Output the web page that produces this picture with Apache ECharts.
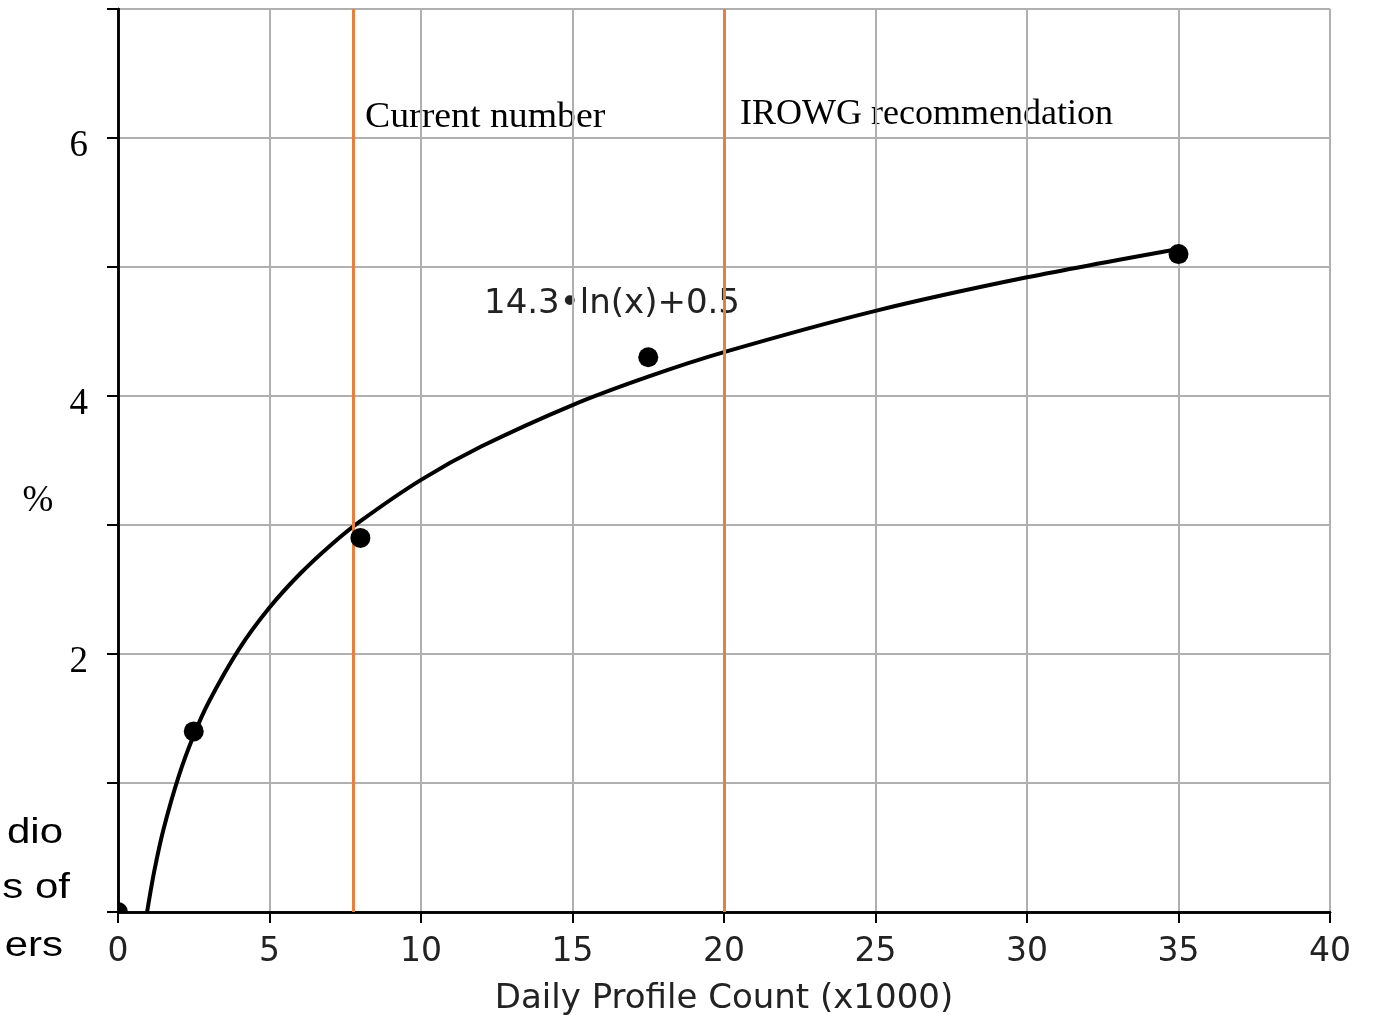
<!DOCTYPE html>
<html>
<head>
<meta charset="utf-8">
<script src="https://cdn.jsdelivr.net/npm/echarts@6/dist/echarts.min.js"></script>
<style>
  html, body { margin: 0; padding: 0; background: #fff; overflow: hidden; }
  #main { width: 1373px; height: 1015px; }
</style>
</head>
<body>
<div id="main"></div>
<script>
// measured profiles
var pointX = [0, 2.5, 8, 17.5, 35];
var pointY = [0, 1.4, 2.9, 4.3, 5.1];

// fitted curve
var curveX = [0.96, 1.2, 1.5, 2, 2.5, 3, 4, 5, 6, 7, 8, 10, 12, 15, 17.5, 20, 25, 30, 35];
var curveY = [0, 0.32, 0.64, 1.05, 1.37, 1.63, 2.04, 2.36, 2.62, 2.84, 3.03, 3.35, 3.61, 3.93, 4.15, 4.34, 4.66, 4.92, 5.14];

// vertical reference lines
var refLinesX = [7.75, 20];

var xTicks = [0, 5, 10, 15, 20, 25, 30, 35, 40];
var yTickLabels = ["2", "4", "6"];

var serif = '"Liberation Serif", "DejaVu Serif", serif';
var sans = '"DejaVu Sans", sans-serif';
var arial = '"Liberation Sans", Arial, sans-serif';

var myChart = echarts.init(document.getElementById("main"));

var option = {
  backgroundColor: "#fff",
  animation: false,
  grid: { left: 118, right: 43, top: 9, bottom: 103, outerBoundsMode: "none", containLabel: false },
  xAxis: [
    {
      type: "value",
      min: xTicks[0],
      max: xTicks[xTicks.length - 1],
      interval: 5,
      name: "Daily Profile Count (x1000)",
      nameLocation: "middle",
      nameGap: 70,
      nameTextStyle: { fontFamily: sans, fontSize: 34, color: "#222" },
      axisLine: { lineStyle: { color: "#000", width: 2.5 } },
      axisTick: { show: true, length: 11, lineStyle: { color: "#000", width: 2 } },
      axisLabel: { fontFamily: sans, fontSize: 33, color: "#222", margin: 24 },
      splitLine: { show: true, lineStyle: { color: "#b0b0b0", width: 2 } }
    },
    {
      type: "value",
      position: "top",
      min: 0,
      max: 40,
      axisLine: { show: true, lineStyle: { color: "#000", width: 2.5 } },
      axisTick: { show: false },
      axisLabel: { show: false },
      splitLine: { show: false }
    }
  ],
  yAxis: [
    {
      type: "value",
      min: 0,
      max: 7,
      interval: 1,
      axisLine: { show: true, lineStyle: { color: "#000", width: 2.5 } },
      axisTick: { show: true, length: 11, lineStyle: { color: "#000", width: 2 } },
      axisLabel: {
        fontFamily: serif,
        fontSize: 37,
        color: "#000",
        margin: 30,
        verticalAlign: "top",
        lineHeight: 16,
        formatter: function (v) {
          return yTickLabels.indexOf(String(v)) >= 0 ? String(v) : "";
        }
      },
      splitLine: { show: true, lineStyle: { color: "#b0b0b0", width: 2 } }
    },
    {
      type: "value",
      position: "right",
      min: 0,
      max: 7,
      axisLine: { show: true, lineStyle: { color: "#000", width: 2.5 } },
      axisTick: { show: false },
      axisLabel: { show: false },
      splitLine: { show: false }
    }
  ],
  series: [
    {
      name: "fit",
      type: "line",
      data: curveX.map(function (x, i) { return [x, curveY[i]]; }),
      smooth: 0.3,
      showSymbol: false,
      lineStyle: { color: "#000", width: 4 },
      z: 4,
      markLine: {
        silent: true,
        symbol: "none",
        label: { show: false },
        lineStyle: { color: "#e5803f", width: 3, type: "solid" },
        data: refLinesX.map(function (x) { return { xAxis: x }; })
      }
    },
    {
      name: "points",
      type: "custom",
      clip: true,
      z: 5,
      data: pointX.map(function (x, i) { return [x, pointY[i]]; }),
      renderItem: function (params, api) {
        var c = api.coord([api.value(0), api.value(1)]);
        return {
          type: "circle",
          shape: { cx: c[0], cy: c[1], r: 10 },
          style: { fill: "#000" }
        };
      }
    }
  ],
  graphic: [
    { type: "text", x: 365, y: 118, scaleX: 1.05, style: { text: "Current number", font: "36px " + serif, fill: "#000", verticalAlign: "middle" } },
    { type: "text", x: 740, y: 115, style: { text: "IROWG recommendation", font: "36px " + serif, fill: "#000", verticalAlign: "middle" } },
    { type: "text", x: 484, y: 304, style: { text: "14.3\u2022ln(x)+0.5", font: "34px " + sans, fill: "#222", verticalAlign: "middle" } },
    { type: "text", x: 38, y: 501, style: { text: "%", font: "37px " + serif, fill: "#000", align: "center", verticalAlign: "middle" } },
    { type: "text", x: 63, y: 833, scaleX: 1.2, style: { text: "dio", font: "35px " + arial, fill: "#000", align: "right", verticalAlign: "middle" } },
    { type: "text", x: 70, y: 888, scaleX: 1.2, style: { text: "s of", font: "35px " + arial, fill: "#000", align: "right", verticalAlign: "middle" } },
    { type: "text", x: 63, y: 946, scaleX: 1.2, style: { text: "ers", font: "35px " + arial, fill: "#000", align: "right", verticalAlign: "middle" } }
  ]
};

option && myChart.setOption(option);
</script>
</body>
</html>
